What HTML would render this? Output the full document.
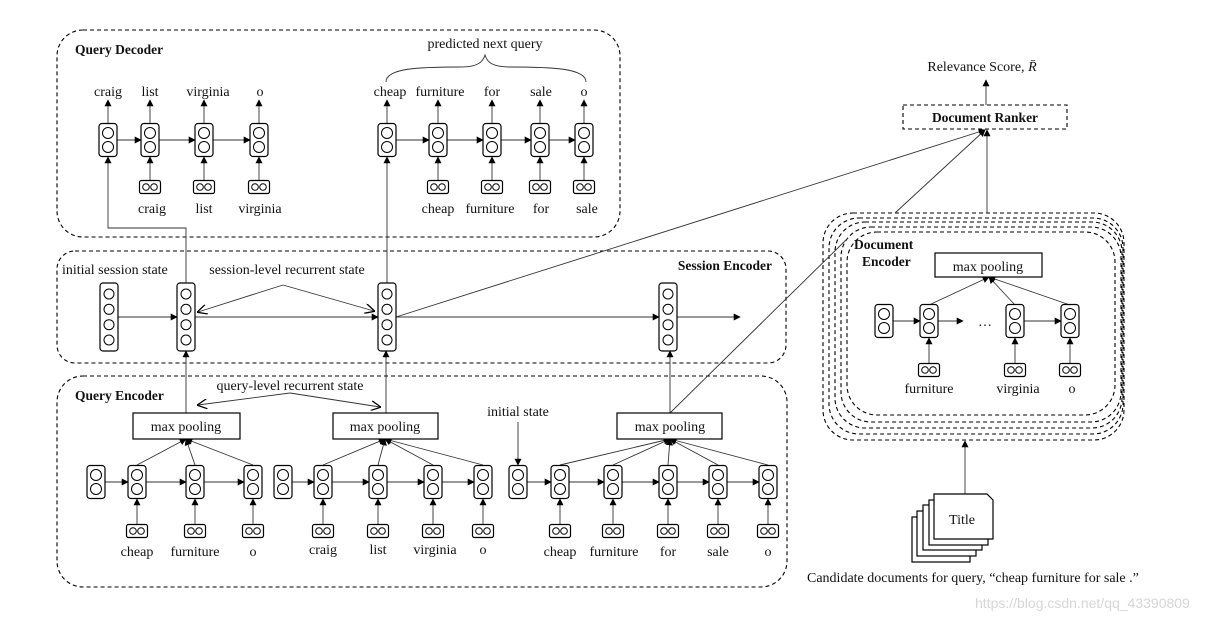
<!DOCTYPE html>
<html><head><meta charset="utf-8"><style>
html,body{margin:0;padding:0;background:#fff}
svg{display:block}
text{font-family:"Liberation Serif",serif;font-size:14px;fill:#111}
.b{font-weight:bold;font-size:13.5px}
line,path.l{stroke:#333;stroke-width:0.9;fill:none}
line.m{marker-end:url(#a)}
line.o{marker-end:url(#o)}
</style></head><body>
<svg width="1226" height="620" viewBox="0 0 1226 620" xmlns="http://www.w3.org/2000/svg">
<defs>
<marker id="a" viewBox="0 0 10 10" refX="9" refY="5" markerWidth="7" markerHeight="7" orient="auto" markerUnits="userSpaceOnUse"><path d="M0,0L10,5L0,10z" fill="#000"/></marker>
<marker id="o" viewBox="0 0 10 10" refX="9" refY="5" markerWidth="10" markerHeight="10" orient="auto" markerUnits="userSpaceOnUse"><path d="M0,0L10,5L0,10" fill="none" stroke="#000" stroke-width="1.3"/></marker>
<g id="c2"><rect x="-9" y="-16.5" width="18" height="33" rx="3" fill="#fff" stroke="#000" stroke-width="1.2"/><circle cx="0" cy="-7" r="5.5" fill="none" stroke="#000"/><circle cx="0" cy="7" r="5.5" fill="none" stroke="#000"/></g>
<g id="c4"><rect x="-9" y="-34" width="18" height="68" rx="3" fill="#fff" stroke="#000" stroke-width="1.2"/><circle cx="0" cy="-23" r="5" fill="none" stroke="#000"/><circle cx="0" cy="-7.7" r="5" fill="none" stroke="#000"/><circle cx="0" cy="7.7" r="5" fill="none" stroke="#000"/><circle cx="0" cy="23" r="5" fill="none" stroke="#000"/></g>
<g id="in"><rect x="-10.5" y="-6.5" width="21" height="13" rx="2" fill="#fff" stroke="#000" stroke-width="1.2"/><circle cx="-4" cy="0" r="3.3" fill="none" stroke="#000"/><circle cx="4" cy="0" r="3.3" fill="none" stroke="#000"/></g>
</defs>
<g fill="none" stroke="#000" stroke-width="1.1" stroke-dasharray="4,3">
<rect x="57" y="30" width="563" height="207" rx="26"/>
<rect x="57" y="251" width="729" height="112" rx="18"/>
<rect x="57" y="376" width="730" height="211" rx="26"/>
<rect x="903" y="105" width="164" height="24"/>
<rect x="823" y="213" width="301" height="227" rx="30"/>
<rect x="829" y="218" width="294" height="216" rx="30"/>
<rect x="835" y="222" width="287" height="206" rx="30"/>
<rect x="841" y="227" width="280" height="195" rx="30"/>
<rect x="847" y="232" width="268" height="183" rx="30"/>
</g>
<!-- decoder -->
<line class="m" x1="108" y1="123" x2="108" y2="100"/><line class="m" x1="150" y1="123" x2="150" y2="100"/><line class="m" x1="204" y1="123" x2="204" y2="100"/><line class="m" x1="259" y1="123" x2="259" y2="100"/>
<line class="m" x1="387" y1="123" x2="387" y2="100"/><line class="m" x1="438" y1="123" x2="438" y2="100"/><line class="m" x1="492" y1="123" x2="492" y2="100"/><line class="m" x1="540" y1="123" x2="540" y2="100"/><line class="m" x1="584" y1="123" x2="584" y2="100"/>
<line class="m" x1="117" y1="140" x2="141" y2="140"/><line class="m" x1="159" y1="140" x2="195" y2="140"/><line class="m" x1="213" y1="140" x2="250" y2="140"/>
<line class="m" x1="396" y1="140" x2="429" y2="140"/><line class="m" x1="447" y1="140" x2="483" y2="140"/><line class="m" x1="501" y1="140" x2="531" y2="140"/><line class="m" x1="549" y1="140" x2="575" y2="140"/>
<line class="m" x1="150" y1="180" x2="150" y2="157"/><line class="m" x1="204" y1="180" x2="204" y2="157"/><line class="m" x1="259" y1="180" x2="259" y2="157"/>
<line class="m" x1="438" y1="180" x2="438" y2="157"/><line class="m" x1="492" y1="180" x2="492" y2="157"/><line class="m" x1="540" y1="180" x2="540" y2="157"/><line class="m" x1="584" y1="180" x2="584" y2="157"/>
<path class="l" d="M386,82C386,68 420,67 460,67C478,67 483,62 485,55C487,62 492,67 510,67C550,67 586,68 586,82"/>
<path class="l" d="M186,283V228H108V160"/><line class="m" x1="108" y1="162" x2="108" y2="157"/>
<line class="m" x1="387" y1="283" x2="387" y2="157"/>
<!-- session -->
<line class="m" x1="118" y1="317" x2="177" y2="317"/><line class="m" x1="195" y1="317" x2="378" y2="317"/><line class="m" x1="396" y1="317" x2="659" y2="317"/><line class="m" x1="677" y1="317" x2="740" y2="317"/>
<line class="o" x1="283" y1="285" x2="198" y2="312"/><line class="o" x1="283" y1="285" x2="374" y2="311"/>
<line class="m" x1="396" y1="317" x2="985" y2="130"/>
<line class="m" x1="186" y1="413" x2="186" y2="351"/><line class="m" x1="386" y1="413" x2="386" y2="351"/><line class="m" x1="670" y1="413" x2="670" y2="351"/>
<line x1="670" y1="413" x2="848" y2="238"/>
<!-- query encoder -->
<line class="o" x1="290" y1="393" x2="198" y2="405"/><line class="o" x1="290" y1="393" x2="380" y2="407"/>
<line class="m" x1="518" y1="422" x2="518" y2="465"/>
<line class="m" x1="105" y1="482" x2="128" y2="482"/><line class="m" x1="146" y1="482" x2="186" y2="482"/><line class="m" x1="204" y1="482" x2="244" y2="482"/>
<line class="m" x1="292" y1="482" x2="314" y2="482"/><line class="m" x1="332" y1="482" x2="369" y2="482"/><line class="m" x1="387" y1="482" x2="424" y2="482"/><line class="m" x1="442" y1="482" x2="474" y2="482"/>
<line class="m" x1="527" y1="482" x2="551" y2="482"/><line class="m" x1="569" y1="482" x2="604" y2="482"/><line class="m" x1="622" y1="482" x2="659" y2="482"/><line class="m" x1="677" y1="482" x2="709" y2="482"/><line class="m" x1="727" y1="482" x2="759" y2="482"/>
<line class="m" x1="137" y1="524" x2="137" y2="499"/><line class="m" x1="195" y1="524" x2="195" y2="499"/><line class="m" x1="253" y1="524" x2="253" y2="499"/>
<line class="m" x1="323" y1="524" x2="323" y2="499"/><line class="m" x1="378" y1="524" x2="378" y2="499"/><line class="m" x1="433" y1="524" x2="433" y2="499"/><line class="m" x1="483" y1="524" x2="483" y2="499"/>
<line class="m" x1="560" y1="524" x2="560" y2="499"/><line class="m" x1="613" y1="524" x2="613" y2="499"/><line class="m" x1="668" y1="524" x2="668" y2="499"/><line class="m" x1="718" y1="524" x2="718" y2="499"/><line class="m" x1="768" y1="524" x2="768" y2="499"/>
<line class="m" x1="137" y1="465" x2="186" y2="439"/><line class="m" x1="195" y1="465" x2="186" y2="439"/><line class="m" x1="253" y1="465" x2="186" y2="439"/>
<line class="m" x1="323" y1="465" x2="385" y2="439"/><line class="m" x1="378" y1="465" x2="385" y2="439"/><line class="m" x1="433" y1="465" x2="385" y2="439"/><line class="m" x1="483" y1="465" x2="385" y2="439"/>
<line class="m" x1="560" y1="465" x2="670" y2="439"/><line class="m" x1="613" y1="465" x2="670" y2="439"/><line class="m" x1="668" y1="465" x2="670" y2="439"/><line class="m" x1="718" y1="465" x2="670" y2="439"/><line class="m" x1="768" y1="465" x2="670" y2="439"/>
<!-- doc -->
<line class="m" x1="986" y1="105" x2="986" y2="80"/>
<line class="m" x1="895" y1="213" x2="985" y2="130"/><line class="m" x1="987" y1="213" x2="987" y2="130"/>
<line class="m" x1="893" y1="321" x2="920" y2="321"/><line class="m" x1="938" y1="321" x2="963" y2="321"/><line class="m" x1="1024" y1="321" x2="1061" y2="321"/>
<line class="m" x1="929" y1="363" x2="929" y2="338"/><line class="m" x1="1015" y1="363" x2="1015" y2="338"/><line class="m" x1="1070" y1="363" x2="1070" y2="338"/>
<line class="m" x1="929" y1="305" x2="989" y2="277"/><line class="m" x1="1015" y1="305" x2="989" y2="277"/><line class="m" x1="1070" y1="305" x2="989" y2="277"/>
<line class="m" x1="965" y1="494" x2="965" y2="441"/>
<g fill="#fff" stroke="#000" stroke-width="1.2">
<rect x="133" y="413" width="107" height="26"/>
<rect x="333" y="413" width="105" height="26"/>
<rect x="617" y="413" width="105" height="26"/>
<rect x="935" y="253" width="107" height="24"/>
<rect x="912" y="517" width="58" height="45"/>
<rect x="917" y="511" width="59" height="45"/>
<rect x="923" y="505" width="59" height="45"/>
<rect x="929" y="500" width="59" height="45"/>
<path d="M934,494H987L993,500V539H934Z"/>
</g>
<g>
<use href="#c2" x="108" y="140"/><use href="#c2" x="150" y="140"/><use href="#c2" x="204" y="140"/><use href="#c2" x="259" y="140"/>
<use href="#c2" x="387" y="140"/><use href="#c2" x="438" y="140"/><use href="#c2" x="492" y="140"/><use href="#c2" x="540" y="140"/><use href="#c2" x="584" y="140"/>
<use href="#in" x="150" y="187"/><use href="#in" x="204" y="187"/><use href="#in" x="259" y="187"/>
<use href="#in" x="438" y="187"/><use href="#in" x="492" y="187"/><use href="#in" x="540" y="187"/><use href="#in" x="584" y="187"/>
<use href="#c4" x="109" y="317"/><use href="#c4" x="186" y="317"/><use href="#c4" x="387" y="317"/><use href="#c4" x="668" y="317"/>
<use href="#c2" x="96" y="482"/><use href="#c2" x="137" y="482"/><use href="#c2" x="195" y="482"/><use href="#c2" x="253" y="482"/>
<use href="#c2" x="283" y="482"/><use href="#c2" x="323" y="482"/><use href="#c2" x="378" y="482"/><use href="#c2" x="433" y="482"/><use href="#c2" x="483" y="482"/>
<use href="#c2" x="518" y="482"/><use href="#c2" x="560" y="482"/><use href="#c2" x="613" y="482"/><use href="#c2" x="668" y="482"/><use href="#c2" x="718" y="482"/><use href="#c2" x="768" y="482"/>
<use href="#in" x="137" y="531"/><use href="#in" x="195" y="531"/><use href="#in" x="253" y="531"/>
<use href="#in" x="323" y="531"/><use href="#in" x="378" y="531"/><use href="#in" x="433" y="531"/><use href="#in" x="483" y="531"/>
<use href="#in" x="560" y="531"/><use href="#in" x="613" y="531"/><use href="#in" x="668" y="531"/><use href="#in" x="718" y="531"/><use href="#in" x="768" y="531"/>
<use href="#c2" x="884" y="321"/><use href="#c2" x="929" y="321"/><use href="#c2" x="1015" y="321"/><use href="#c2" x="1070" y="321"/>
<use href="#in" x="929" y="370"/><use href="#in" x="1015" y="370"/><use href="#in" x="1070" y="370"/>
</g>
<g text-anchor="middle">
<text x="108" y="96">craig</text><text x="150" y="96">list</text><text x="208" y="96">virginia</text><text x="260" y="96">o</text>
<text x="390" y="96">cheap</text><text x="440" y="96">furniture</text><text x="492" y="96">for</text><text x="541" y="96">sale</text><text x="584" y="96">o</text>
<text x="485" y="48">predicted next query</text>
<text x="152" y="213">craig</text><text x="204" y="213">list</text><text x="260" y="213">virginia</text>
<text x="438" y="213">cheap</text><text x="490" y="213">furniture</text><text x="541" y="213">for</text><text x="587" y="213">sale</text>
<text x="287" y="274">session-level recurrent state</text>
<text x="290" y="390">query-level recurrent state</text>
<text x="186" y="431">max pooling</text><text x="385" y="431">max pooling</text><text x="670" y="431">max pooling</text>
<text x="518" y="416">initial state</text>
<text x="137" y="556">cheap</text><text x="195" y="556">furniture</text><text x="253" y="556">o</text>
<text x="323" y="554">craig</text><text x="378" y="554">list</text><text x="435" y="554">virginia</text><text x="483" y="554">o</text>
<text x="560" y="556">cheap</text><text x="614" y="556">furniture</text><text x="668" y="556">for</text><text x="718" y="556">sale</text><text x="768" y="556">o</text>
<text x="988" y="271">max pooling</text>
<text x="929" y="393">furniture</text><text x="1018" y="393">virginia</text><text x="1072" y="393">o</text>
<text x="985" y="326">…</text>
<text x="962" y="524">Title</text>
<text x="985" y="122" class="b">Document Ranker</text>
<text x="982" y="71">Relevance Score, <tspan font-style="italic">R̄</tspan></text>
</g>
<text x="75" y="54" class="b">Query Decoder</text>
<text x="62" y="274">initial session state</text>
<text x="772" y="270" class="b" text-anchor="end">Session Encoder</text>
<text x="75" y="400" class="b">Query Encoder</text>
<text x="854" y="249" class="b">Document</text>
<text x="862" y="266" class="b">Encoder</text>
<text x="807" y="582">Candidate documents for query, “cheap furniture for sale .”</text>
<text x="975" y="608" style="font-family:'Liberation Sans',sans-serif;font-size:14px;fill:#d6d6d6">https://blog.csdn.net/qq_43390809</text>
</svg>
</body></html>
